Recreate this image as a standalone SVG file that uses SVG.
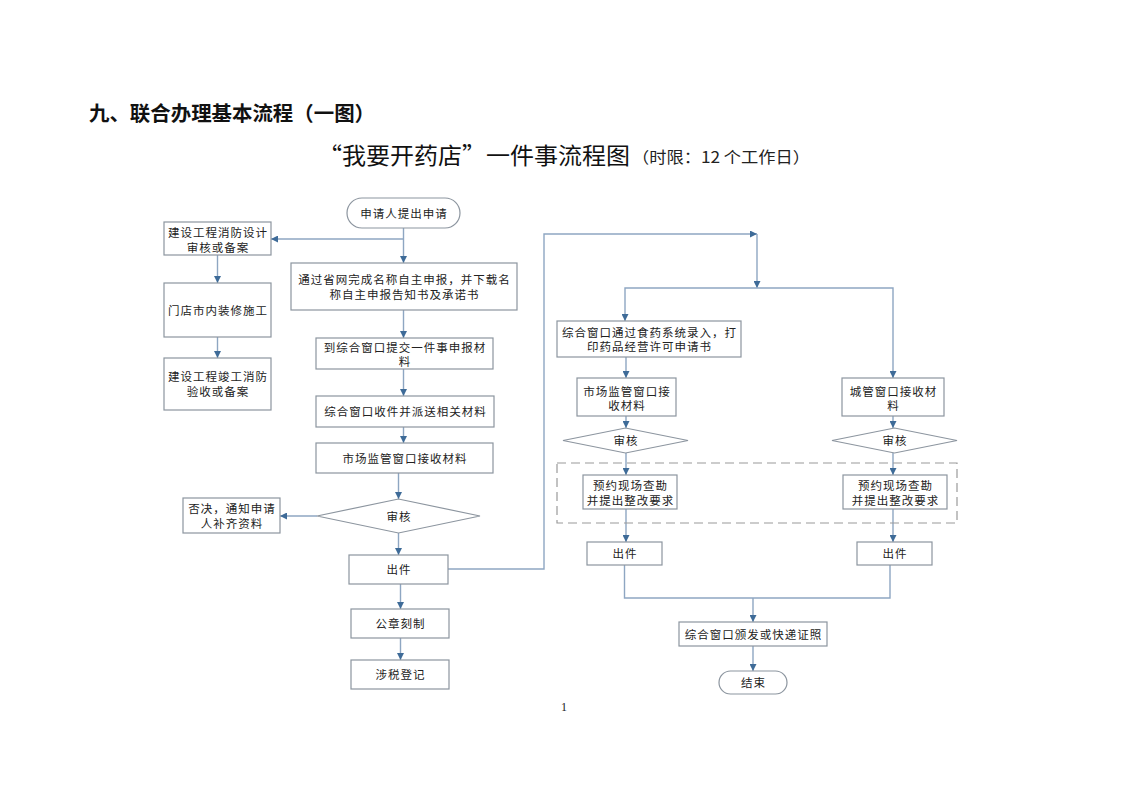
<svg xmlns="http://www.w3.org/2000/svg" width="1122" height="793" viewBox="0 0 1122 793">
<defs>
<style>
.bx{fill:#ffffff;stroke:#8c959f;stroke-width:1.2}
.t{font-family:"Noto Sans CJK SC","Noto Sans",sans-serif;font-size:11.5px;fill:#222;text-anchor:middle;letter-spacing:1px}
.ln{fill:none;stroke:#8ea6c2;stroke-width:1.4}
.dash{fill:none;stroke:#9a9a9a;stroke-width:1.2;stroke-dasharray:9 5}
</style>
<marker id="ah" viewBox="0 0 10 10" refX="10" refY="5" markerWidth="7" markerHeight="7" markerUnits="userSpaceOnUse" orient="auto">
<path d="M0,0 L10,5 L0,10 z" fill="#3e6b98"/>
</marker>
</defs>
<rect x="0" y="0" width="1122" height="793" fill="#ffffff"/>

<g id="titles">
<text x="89" y="121" font-family="Noto Sans CJK SC, Noto Sans, sans-serif" font-size="20" font-weight="bold" fill="#111" textLength="286" lengthAdjust="spacingAndGlyphs">九、联合办理基本流程（一图）</text>
<text x="318" y="164" font-family="Noto Sans CJK SC, Noto Sans, sans-serif" font-size="23" fill="#111" textLength="312" lengthAdjust="spacingAndGlyphs">“我要开药店”一件事流程图</text>
<text x="632" y="163" font-family="Noto Sans CJK SC, Noto Sans, sans-serif" font-size="15.5" fill="#222" textLength="178" lengthAdjust="spacingAndGlyphs">（时限：12 个工作日）</text>
</g>

<g id="connectors">
<path class="ln" d="M403.5,228 V263" marker-end="url(#ah)"/>
<path class="ln" d="M403.5,239 H271" marker-end="url(#ah)"/>
<path class="ln" d="M217.5,255 V283" marker-end="url(#ah)"/>
<path class="ln" d="M217.5,337 V358" marker-end="url(#ah)"/>
<path class="ln" d="M403.5,310 V338" marker-end="url(#ah)"/>
<path class="ln" d="M403.5,369 V396" marker-end="url(#ah)"/>
<path class="ln" d="M403.5,427 V443" marker-end="url(#ah)"/>
<path class="ln" d="M398.5,473 V499" marker-end="url(#ah)"/>
<path class="ln" d="M317,516 H280" marker-end="url(#ah)"/>
<path class="ln" d="M398.5,533 V555" marker-end="url(#ah)"/>
<path class="ln" d="M400.5,584 V609" marker-end="url(#ah)"/>
<path class="ln" d="M400.5,638 V660" marker-end="url(#ah)"/>
<path class="ln" d="M448,569 H544 V234 H757" marker-end="url(#ah)"/>
<path class="ln" d="M757,234 V288" marker-end="url(#ah)"/>
<path class="ln" d="M757,288 H625 V321" marker-end="url(#ah)"/>
<path class="ln" d="M757,288 H893 V378" marker-end="url(#ah)"/>
<path class="ln" d="M626,357 V378" marker-end="url(#ah)"/>
<path class="ln" d="M626,416 V428" marker-end="url(#ah)"/>
<path class="ln" d="M626,453 V475" marker-end="url(#ah)"/>
<path class="ln" d="M626,509 V542" marker-end="url(#ah)"/>
<path class="ln" d="M893,416 V428" marker-end="url(#ah)"/>
<path class="ln" d="M893,453 V475" marker-end="url(#ah)"/>
<path class="ln" d="M893,509 V542" marker-end="url(#ah)"/>
<path class="ln" d="M624.5,565 V598 H890 V565"/>
<path class="ln" d="M753,598 V622" marker-end="url(#ah)"/>
<path class="ln" d="M753,646 V671" marker-end="url(#ah)"/>
</g>

<g id="dashed-group">
<rect class="dash" x="557" y="463" width="400" height="60"/>
</g>

<g id="n-start"><rect class="bx" x="347" y="198" width="113" height="30" rx="15"/><text class="t" x="404" y="217.5">申请人提出申请</text></g>
<g id="n-l1"><rect class="bx" x="164" y="222" width="107" height="33"/><text class="t" x="218" y="236.5">建设工程消防设计</text><text class="t" x="218" y="251.5">审核或备案</text></g>
<g id="n-l2"><rect class="bx" x="164" y="283" width="107" height="54"/><text class="t" x="218" y="314.5">门店市内装修施工</text></g>
<g id="n-l3"><rect class="bx" x="164" y="358" width="107" height="52"/><text class="t" x="218" y="381">建设工程竣工消防</text><text class="t" x="218" y="396">验收或备案</text></g>
<g id="n-b1"><rect class="bx" x="291" y="263" width="226" height="47"/><text class="t" x="404.5" y="283.5">通过省网完成名称自主申报，并下载名</text><text class="t" x="404.5" y="298.5">称自主申报告知书及承诺书</text></g>
<g id="n-b2"><rect class="bx" x="316" y="338" width="177" height="31"/><text class="t" x="405" y="351.5">到综合窗口提交一件事申报材</text><text class="t" x="405" y="365.5">料</text></g>
<g id="n-b3"><rect class="bx" x="316" y="396" width="178" height="31"/><text class="t" x="405.5" y="416">综合窗口收件并派送相关材料</text></g>
<g id="n-b4"><rect class="bx" x="316" y="443" width="177" height="30"/><text class="t" x="405" y="462.5">市场监管窗口接收材料</text></g>
<g id="n-d1"><polygon class="bx" points="317,516 398.5,499 480,516 398.5,533"/><text class="t" x="399" y="520.5">审核</text></g>
<g id="n-reject"><rect class="bx" x="183" y="498" width="97" height="35"/><text class="t" x="232" y="512.5">否决，通知申请</text><text class="t" x="232" y="527.5">人补齐资料</text></g>
<g id="n-out"><rect class="bx" x="349" y="555" width="99" height="29"/><text class="t" x="399" y="574">出件</text></g>
<g id="n-seal"><rect class="bx" x="351" y="609" width="98" height="29"/><text class="t" x="400.5" y="628">公章刻制</text></g>
<g id="n-tax"><rect class="bx" x="351" y="660" width="98" height="29"/><text class="t" x="400.5" y="679">涉税登记</text></g>
<g id="n-r0"><rect class="bx" x="557" y="321" width="184" height="36"/><text class="t" x="649.5" y="336.5">综合窗口通过食药系统录入，打</text><text class="t" x="649.5" y="350.5">印药品经营许可申请书</text></g>
<g id="n-rm"><rect class="bx" x="577" y="378" width="99" height="38"/><text class="t" x="627" y="395.5">市场监管窗口接</text><text class="t" x="627" y="409.5">收材料</text></g>
<g id="n-rc"><rect class="bx" x="842" y="378" width="102" height="38"/><text class="t" x="893.5" y="395.5">城管窗口接收材</text><text class="t" x="893.5" y="409.5">料</text></g>
<g id="n-dl"><polygon class="bx" points="563,440.5 625.5,428 688,440.5 625.5,453"/><text class="t" x="626" y="445">审核</text></g>
<g id="n-dr"><polygon class="bx" points="832,440.5 894.5,428 957,440.5 894.5,453"/><text class="t" x="895" y="445">审核</text></g>
<g id="n-pl"><rect class="bx" x="583" y="475" width="94" height="34"/><text class="t" x="630.5" y="489.5">预约现场查勘</text><text class="t" x="630.5" y="504.5">并提出整改要求</text></g>
<g id="n-pr"><rect class="bx" x="843" y="475" width="104" height="34"/><text class="t" x="895.5" y="489.5">预约现场查勘</text><text class="t" x="895.5" y="504.5">并提出整改要求</text></g>
<g id="n-ol"><rect class="bx" x="587" y="542" width="75" height="23"/><text class="t" x="625" y="558">出件</text></g>
<g id="n-or"><rect class="bx" x="857" y="542" width="75" height="23"/><text class="t" x="895" y="558">出件</text></g>
<g id="n-issue"><rect class="bx" x="679" y="622" width="148" height="24"/><text class="t" x="753.5" y="638.5">综合窗口颁发或快递证照</text></g>
<g id="n-end"><rect class="bx" x="719" y="671" width="68" height="23" rx="11.5"/><text class="t" x="753.5" y="687">结束</text></g>

<text x="561" y="711" font-family="Liberation Serif, serif" font-size="12" fill="#222">1</text>
</svg>
